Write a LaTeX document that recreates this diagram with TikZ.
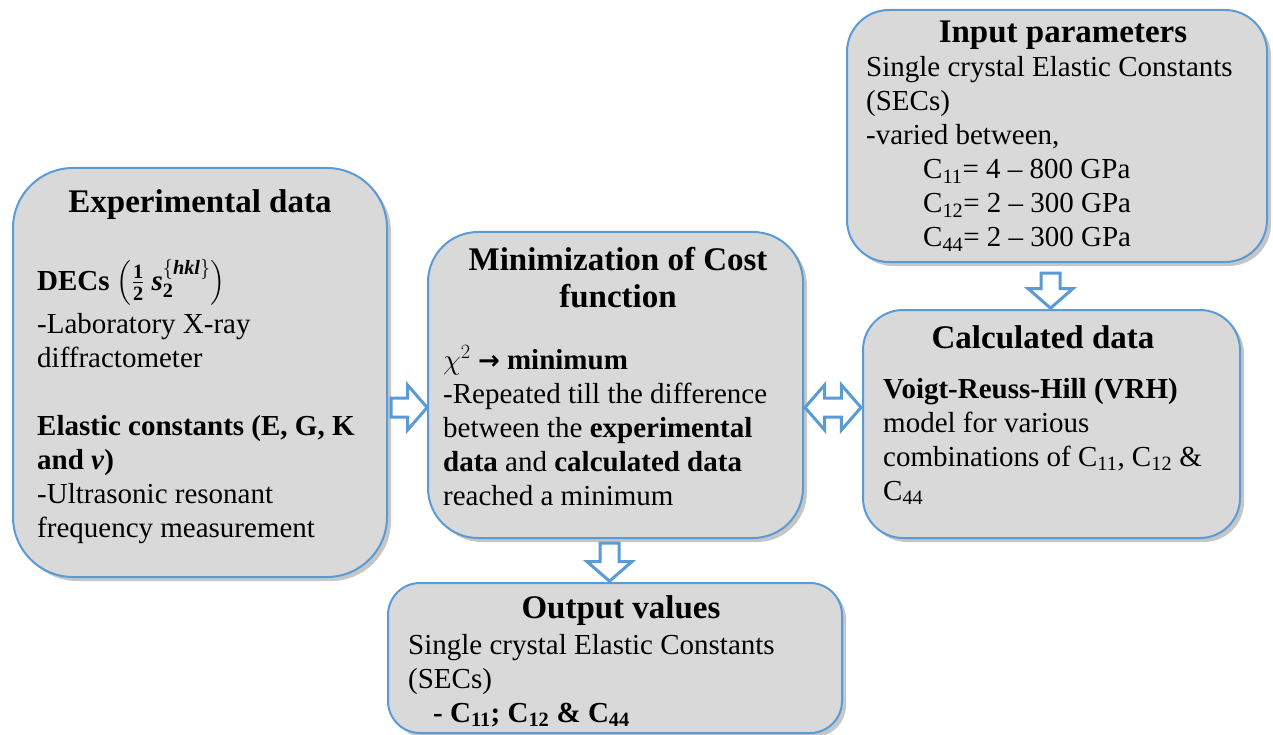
\RequirePackage{fix-cm}
\documentclass[tikz,border=0pt]{standalone}
\usepackage{fontspec}
\setmainfont{Liberation Serif}
\newfontfamily\symfont{DejaVu Sans}
\usepackage{amsmath}
\usepackage{tikz}
\usetikzlibrary{shapes.arrows, shadows, calc}

\definecolor{boxblue}{HTML}{5B9BD5}
\definecolor{boxgray}{HTML}{D9D9D9}
\newcommand{\bodysize}{\fontsize{29}{34}\selectfont}
\newcommand{\headsize}{\fontsize{33}{37}\selectfont\bfseries}
\newcommand{\bi}[1]{\text{\bfseries\itshape #1}}

\tikzset{
  box/.style={draw=boxblue, line width=2pt, fill=boxgray, inner sep=0pt,
    drop shadow={shadow xshift=4pt, shadow yshift=-4pt, opacity=0.45}},
  head/.style={font=\headsize, anchor=base, inner sep=0pt, align=center},
  body/.style={font=\bodysize, anchor=base west, inner sep=0pt, align=left},
  oneline/.style={font=\bodysize, anchor=base west, inner sep=0pt},
  blk/.style={draw=boxblue, line width=3pt, fill=white, inner xsep=0pt, inner ysep=8pt,
    single arrow head extend=13pt, double arrow head extend=13pt,
    single arrow tip angle=98, double arrow tip angle=98}
}

\begin{document}
\begin{tikzpicture}[x=1pt, y=-1pt]
\useasboundingbox (0,0) rectangle (1273,735);

\node[box, rounded corners=60pt, minimum width=374pt, minimum height=409pt] (exp) at (200,372.5) {};
\node[box, rounded corners=50pt, minimum width=375pt, minimum height=306pt] (min) at (615.5,385) {};
\node[box, rounded corners=42pt, minimum width=420pt, minimum height=252pt] (inp) at (1057,136) {};
\node[box, rounded corners=40pt, minimum width=377pt, minimum height=228pt] (calc) at (1051.5,424) {};
\node[box, rounded corners=32pt, minimum width=454pt, minimum height=150pt] (out) at (615,658) {};

% experimental data (multi-line nodes sit on their last baseline)
\node[head] (expt) at (200,213) {Experimental data};
\node[oneline] (expb1) at (37,290) {\textbf{DECs} $\left(\frac{\mathbf{1}}{\mathbf{2}}\ \bi{s}_{\mathbf{2}}^{\{\bi{hkl}\}}\right)$};
\node[body] (expb2) at (37,537) {-Laboratory X-ray\\diffractometer\\[34pt]
  \textbf{Elastic constants (E, G, K}\\\textbf{and \textit{v})}\\
  -Ultrasonic resonant\\frequency measurement};

% cost function
\node[head] (mint) at (618,307) {Minimization of Cost\\function};
\node[body] (minb) at (443,505) {$\chi^2$ {\symfont\bfseries\fontsize{26}{34}\selectfont →} \textbf{minimum}\\
  -Repeated till the difference\\between the \textbf{experimental}\\
  \textbf{data} and \textbf{calculated data}\\reached a minimum};

% input
\node[head] (inpt) at (1063,43) {Input parameters};
\node[body] (inpb) at (866,247) {Single crystal Elastic Constants\\(SECs)\\-varied between,\\
  \hspace*{57pt}C\textsubscript{11}= 4 -- 800 GPa\\
  \hspace*{57pt}C\textsubscript{12}= 2 -- 300 GPa\\
  \hspace*{57pt}C\textsubscript{44}= 2 -- 300 GPa};

% calculated
\node[head] (calct) at (1043,348) {Calculated data};
\node[body] (calcb) at (883,500) {\textbf{Voigt-Reuss-Hill (VRH)}\\model for various\\
  combinations of C\textsubscript{11}, C\textsubscript{12} \&\\C\textsubscript{44}};

% output
\node[head] (outt) at (621,618) {Output values};
\node[body] (outb) at (408,722) {Single crystal Elastic Constants\\(SECs)\\
  \hspace*{25pt}\textbf{- C\textsubscript{11}; C\textsubscript{12} \& C\textsubscript{44}}};

% block arrows
\node[blk, single arrow, minimum height=36pt] (a1) at ([xshift=-22pt, yshift=-22.5pt]min.west) {};
\node[blk, double arrow, minimum height=56pt] (a2) at ($(min.east)!.5!(calc.west)+(0,3)$) {};
\node[blk, single arrow, minimum height=35pt, rotate=-90] (a3) at ($(inp.south)!.5!(calc.north)+(-3.75,0.5)$) {};
\node[blk, single arrow, minimum height=38pt, rotate=-90] (a4) at ($(min.south)!.5!(out.north)+(-5.75,-2.5)$) {};
\end{tikzpicture}
\end{document}
